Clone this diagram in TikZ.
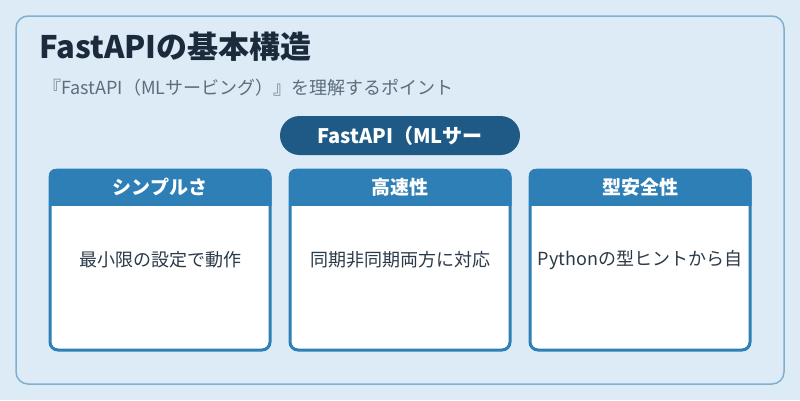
\documentclass[tikz,border=0pt]{standalone}
\usepackage{fontspec}
\setmainfont{Noto Sans CJK JP}
\usetikzlibrary{positioning}
\definecolor{bgblue}{HTML}{DDEBF6}
\definecolor{frameblue}{HTML}{7DB0D3}
\definecolor{pillblue}{HTML}{1F5A87}
\definecolor{cardblue}{HTML}{2E7FB5}
\definecolor{titleink}{HTML}{1B2B3B}
\definecolor{subink}{HTML}{5D6D7C}
\definecolor{bodyink}{HTML}{2B3A48}
\tikzset{
  frame/.style={rectangle, rounded corners=12pt, draw=frameblue, line width=1.5pt, fill=bgblue, minimum width=768pt, minimum height=368pt},
  pill/.style={rectangle, rounded corners=19.5pt, fill=pillblue, text=white, font=\fontsize{20}{22}\selectfont\bfseries, minimum width=240pt, minimum height=39pt, inner sep=0pt},
  card/.style={rectangle, rounded corners=8pt, draw=cardblue, line width=3pt, fill=white, minimum width=220pt, minimum height=180pt},
  headtext/.style={text=white, font=\fontsize{19}{21}\selectfont\bfseries, inner sep=0pt},
  bodytext/.style={text=bodyink, font=\fontsize{18}{20}\selectfont, inner sep=0pt},
}

\begin{document}
\begin{tikzpicture}[x=1pt, y=-1pt]
\fill[bgblue] (0,0) rectangle (800,400);
\useasboundingbox (0,0) rectangle (800,400);
% ---- frame and headings ----
\node[frame] (frame) at (400,200) {};
\node[anchor=west, inner sep=0pt, text=titleink, font=\fontsize{31}{34}\selectfont\bfseries] (title) at (39,47) {FastAPIの基本構造};
\node[anchor=west, inner sep=0pt, text=subink, font=\fontsize{18}{20}\selectfont] (subtitle) at (43,88) {『FastAPI（MLサービング）』を理解するポイント};
\node[pill] (pill) at (400,135.5) {FastAPI（MLサー};
% ---- cards ----
\node[card] (simple) at (160,260) {};
\node[card] (speed) at (400,260) {};
\node[card] (typesafe) at (640,260) {};
\begin{scope}
  \clip[rounded corners=8pt] (simple.north west) rectangle (simple.south east);
  \fill[cardblue] (simple.north west) rectangle ([yshift=-37pt]simple.north east);
\end{scope}
\begin{scope}
  \clip[rounded corners=8pt] (speed.north west) rectangle (speed.south east);
  \fill[cardblue] (speed.north west) rectangle ([yshift=-37pt]speed.north east);
\end{scope}
\begin{scope}
  \clip[rounded corners=8pt] (typesafe.north west) rectangle (typesafe.south east);
  \fill[cardblue] (typesafe.north west) rectangle ([yshift=-37pt]typesafe.north east);
\end{scope}
\node[headtext] (simplehead) at ([yshift=-18.5pt]simple.north) {シンプルさ};
\node[headtext] (speedhead) at ([yshift=-18.5pt]speed.north) {高速性};
\node[headtext] (typesafehead) at ([yshift=-18.5pt]typesafe.north) {型安全性};
\node[bodytext] (simplebody) at (simple.center) {最小限の設定で動作};
\node[bodytext] (speedbody) at (speed.center) {同期非同期両方に対応};
\node[bodytext] (typesafebody) at (typesafe.center) {Pythonの型ヒントから自};
\end{tikzpicture}
\end{document}
